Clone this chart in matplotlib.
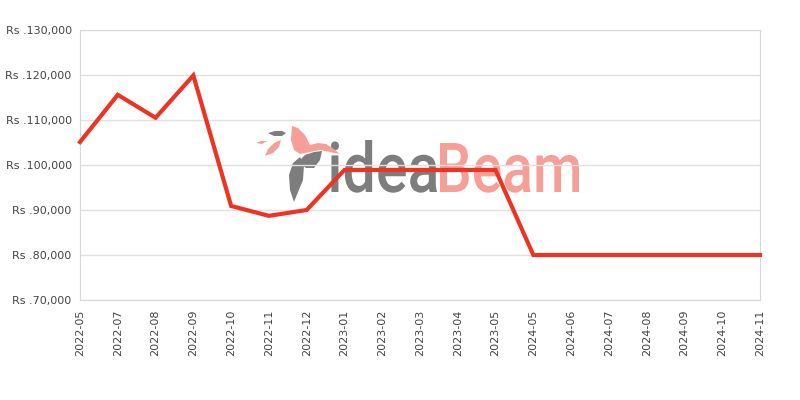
import matplotlib
matplotlib.use("Agg")
import matplotlib.pyplot as plt
from matplotlib.patches import Polygon, PathPatch
from matplotlib.textpath import TextPath
from matplotlib.font_manager import FontProperties
from matplotlib.transforms import Affine2D

months = ["2022-05", "2022-07", "2022-08", "2022-09", "2022-10", "2022-11", "2022-12",
          "2023-01", "2023-02", "2023-03", "2023-04", "2023-05", "2024-05", "2024-06",
          "2024-07", "2024-08", "2024-09", "2024-10", "2024-11"]
prices = [105100, 115600, 110500, 119900, 90900, 88700, 90000,
          98900, 98900, 98900, 98900, 98900, 80000, 80000,
          80000, 80000, 80000, 80000, 80000]
yticks = [70000, 80000, 90000, 100000, 110000, 120000, 130000]

fig = plt.figure(figsize=(8, 4), dpi=100)

# ---- watermark (pixel-space overlay, behind the chart) ----
wax = fig.add_axes([0, 0, 1, 1], zorder=0)
wax.set_xlim(0, 800)
wax.set_ylim(400, 0)
wax.axis("off")
GRAY = "#7d7d7d"
SALMON = "#f59f97"
fp = FontProperties(family="Roboto", weight="medium")


def word(txt, x0, x1, top, base, color):
    tp = TextPath((0, 0), txt, size=100, prop=fp)
    ext = tp.get_extents()
    sx = (x1 - x0) / ext.width
    sy = (base - top) / ext.y1
    tr = Affine2D().translate(-ext.x0, 0).scale(sx, -sy).translate(x0, base)
    wax.add_patch(PathPatch(tr.transform_path(tp), color=color, lw=0))


word("idea", 331, 437, 140, 192, GRAY)
word("Beam", 440, 579, 143, 192, SALMON)

wax.add_patch(Polygon([(292, 126), (298, 128), (305, 135), (310, 145), (318, 143), (326, 144),
                       (334, 149), (340, 154), (330, 152), (320, 150), (310, 152), (300, 154),
                       (294, 150), (291, 140)], closed=True, color=SALMON, lw=0))
wax.add_patch(Polygon([(268, 133), (275, 131), (282, 131), (286, 133), (282, 136), (274, 136)],
                      closed=True, color=GRAY, lw=0))
wax.add_patch(Polygon([(256, 143), (261, 141), (267, 141), (262, 144)], closed=True, color=SALMON, lw=0))
wax.add_patch(Polygon([(265, 156), (268, 149), (274, 143), (281, 140), (279, 147), (273, 153)],
                      closed=True, color=SALMON, lw=0))
wax.add_patch(Polygon([(298, 162), (305, 155), (314, 152), (322, 151), (320, 160), (314, 168),
                       (306, 168)], closed=True, color=GRAY, lw=0))
wax.add_patch(Polygon([(300, 157), (304, 165), (303, 180), (298, 192), (294, 202), (290, 190),
                       (289, 175), (293, 163)], closed=True, color=GRAY, lw=0))

# ---- chart ----
ax = fig.add_axes([0.1, 0.25, 0.85, 0.675], zorder=1)
x = list(range(len(months)))
ax.plot(x, prices, color="#ee3322", lw=3.0, solid_joinstyle="miter", zorder=3, clip_on=False)
ax.set_xlim(0, len(months) - 1)
ax.set_ylim(70000, 130000)
ax.set_yticks(yticks)
ax.set_yticklabels([f"Rs .{v:,}" for v in yticks])
ax.set_xticks(x)
ax.set_xticklabels(months, rotation=90)
ax.patch.set_alpha(0)
ax.grid(axis="y", color="#e0e0e0", lw=1)
ax.set_axisbelow(True)
for s in ax.spines.values():
    s.set_color("#d8d8d8")
ax.tick_params(axis="both", length=0, labelsize=8, labelcolor="#444444", pad=6)
ax.tick_params(axis="x", pad=7)

fig.savefig("out.png", dpi=100)
